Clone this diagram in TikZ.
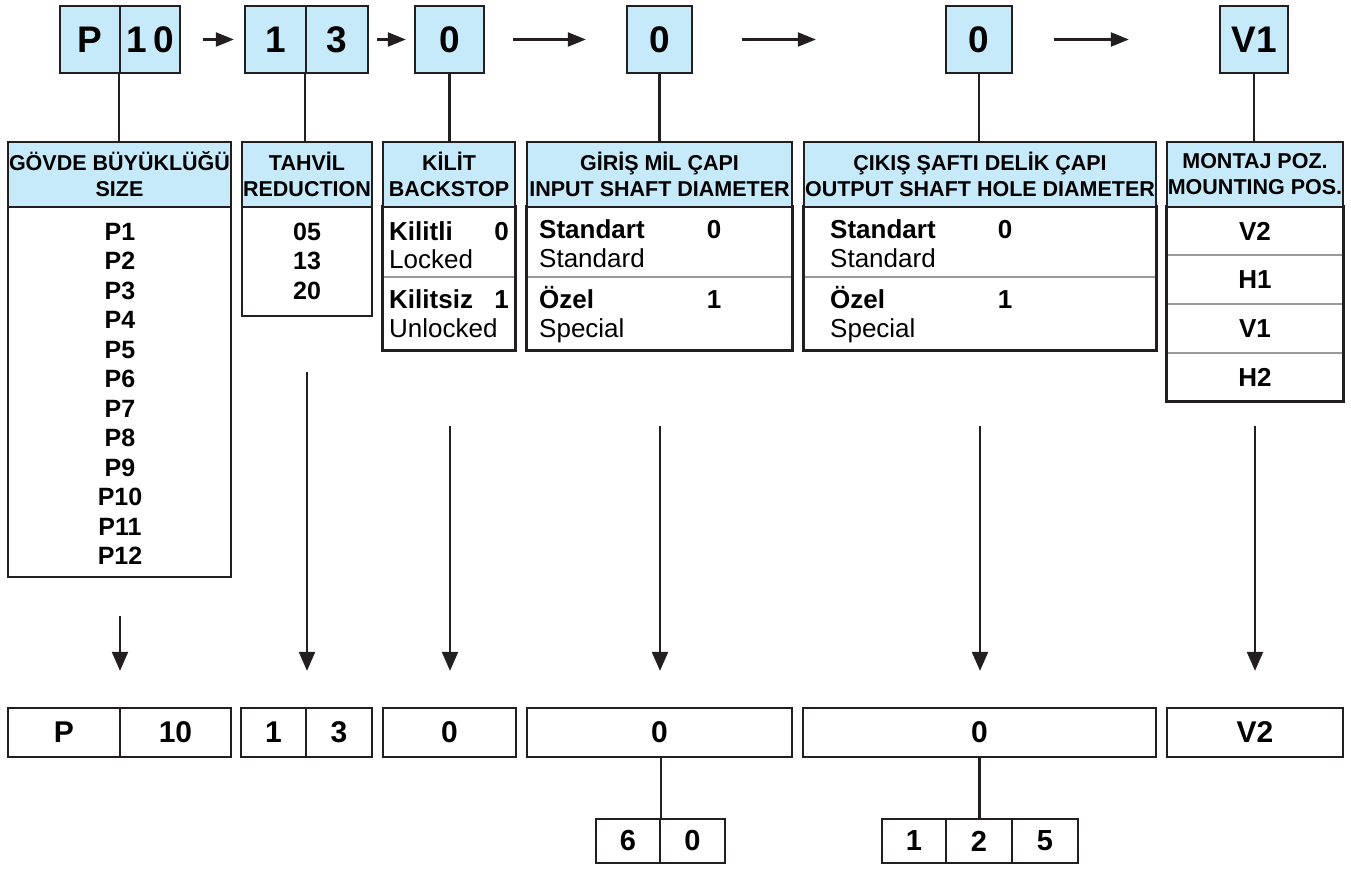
\documentclass[tikz,border=0pt]{standalone}
\usepackage{fontspec}
\setmainfont{Liberation Sans}
\usetikzlibrary{arrows.meta}
\definecolor{frame}{HTML}{231F20}
\definecolor{hdr}{HTML}{C7EAFA}
\definecolor{rowline}{HTML}{9A9A9A}
\newcommand\mkbox[7]{\node[#6,minimum width={(#4-#2)*1pt},minimum height={(#5-#3)*1pt}] (#1) at ({(#2+#4)/2},{(#3+#5)/2}) {#7};}
\begin{document}
\begin{tikzpicture}[x=1pt,y=-1pt,
  bx/.style={draw=frame,line width=2.3pt,inner sep=0pt},
  topbx/.style={bx,fill=hdr,font=\bfseries\fontsize{37}{40}\selectfont},
  hbx/.style={bx,fill=hdr,align=center,font=\bfseries\fontsize{21.5}{26}\selectfont},
  bbx/.style={bx,font=\bfseries\fontsize{30}{34}\selectfont},
  sbx/.style={bx,font=\bfseries\fontsize{29}{32}\selectfont},
  conn/.style={draw=frame,line width=2.2pt},
  tarrow/.style={conn,-{Triangle[length=18pt,width=14pt]}},
  darrow/.style={conn,-{Triangle[length=19pt,width=16pt]}},
  rowsep/.style={draw=rowline,line width=1.2pt},
  bodyb/.style={inner sep=0pt,font=\bfseries\fontsize{26}{29}\selectfont},
  bodyr/.style={inner sep=0pt,font=\fontsize{26}{29}\selectfont},
  listt/.style={inner sep=0pt,anchor=base,font=\bfseries\fontsize{25}{29}\selectfont}
]
\useasboundingbox (0,0) rectangle (1351,869);
\fill[white] (0,0) rectangle (1351,869);

% ---- top code boxes
\mkbox{a1}{60}{6}{120}{73}{topbx}{P}
\mkbox{a2}{120}{6}{180}{73}{topbx}{1\,0}
\mkbox{b1}{245}{6}{306}{73}{topbx}{1}
\mkbox{b2}{306}{6}{368}{73}{topbx}{3}
\mkbox{c}{415}{6}{484}{73}{topbx}{0}
\mkbox{d}{627}{6}{692}{73}{topbx}{0}
\mkbox{e}{946}{6}{1012}{73}{topbx}{0}
\mkbox{f}{1220}{6}{1288}{73}{topbx}{V1}

\draw[tarrow,shorten <=22pt,shorten >=10pt] (a2.east) -- (b1.west);
\draw[tarrow,shorten <=8pt,shorten >=8pt] (b2.east) -- (c.west);
\draw[tarrow,shorten <=28pt,shorten >=40pt] (c.east) -- (d.west);
\draw[tarrow,shorten <=49pt,shorten >=129pt] (d.east) -- (e.west);
\draw[tarrow,shorten <=41pt,shorten >=90pt] (e.east) -- (f.west);

% ---- option tables
% G1 size
\mkbox{g1b}{8}{207}{231}{577}{bx}{}
\mkbox{g1h}{8}{142}{231}{207}{hbx}{GÖVDE BÜYÜKLÜĞÜ\\SIZE}
\foreach \i in {1,...,12}{
  \node[listt] (pl\i) at (120,{240+29.5*(\i-1)}) {P\i};
}
% G2 reduction
\mkbox{g2b}{242}{207}{372}{316}{bx}{}
\mkbox{g2h}{242}{142}{372}{207}{hbx}{TAHVİL\\REDUCTION}
\node[listt] (r05) at (307,240) {05};
\node[listt] (r13) at (307,269.5) {13};
\node[listt] (r20) at (307,299) {20};
% G3 backstop
\mkbox{g3b}{383}{207}{515}{350}{bx}{}
\draw[rowsep] (384,277) -- (514,277);
\draw[bx,fill=none] (g3b.north west) rectangle (g3b.south east);
\mkbox{g3h}{383}{142}{515}{207}{hbx}{KİLİT\\BACKSTOP}
\node[bodyb,anchor=base west] (k1) at (389,240) {Kilitli};
\node[bodyb,anchor=base east] (k1v) at (509,240) {0};
\node[bodyr,anchor=base west] (k1e) at (389,268) {Locked};
\node[bodyb,anchor=base west] (k2) at (389,308) {Kilitsiz};
\node[bodyb,anchor=base east] (k2v) at (509,308) {1};
\node[bodyr,anchor=base west] (k2e) at (389,337) {Unlocked};
% G4 input shaft
\mkbox{g4b}{527}{207}{792}{350}{bx}{}
\draw[rowsep] (528,277) -- (791,277);
\draw[bx,fill=none] (g4b.north west) rectangle (g4b.south east);
\mkbox{g4h}{527}{142}{792}{207}{hbx}{GİRİŞ MİL ÇAPI\\INPUT SHAFT DIAMETER}
\node[bodyb,anchor=base west] (i1t) at (539,238) {Standart};
\node[bodyb,anchor=base] (i1v) at (714,238) {0};
\node[bodyr,anchor=base west] (i1e) at (539,267) {Standard};
\node[bodyb,anchor=base west] (i2t) at (539,308) {Özel};
\node[bodyb,anchor=base] (i2v) at (714,308) {1};
\node[bodyr,anchor=base west] (i2e) at (539,337) {Special};
% G5 output shaft
\mkbox{g5b}{804}{207}{1156}{350}{bx}{}
\draw[rowsep] (805,277) -- (1155,277);
\draw[bx,fill=none] (g5b.north west) rectangle (g5b.south east);
\mkbox{g5h}{804}{142}{1156}{207}{hbx}{ÇIKIŞ ŞAFTI DELİK ÇAPI\\OUTPUT SHAFT HOLE DIAMETER}
\node[bodyb,anchor=base west] (o1t) at (830,238) {Standart};
\node[bodyb,anchor=base] (o1v) at (1005,238) {0};
\node[bodyr,anchor=base west] (o1e) at (830,267) {Standard};
\node[bodyb,anchor=base west] (o2t) at (830,308) {Özel};
\node[bodyb,anchor=base] (o2v) at (1005,308) {1};
\node[bodyr,anchor=base west] (o2e) at (830,337) {Special};
% G6 mounting
\mkbox{g6b}{1167}{207}{1343}{401}{bx}{}
\draw[rowsep] (1168,255) -- (1342,255);
\draw[rowsep] (1168,304) -- (1342,304);
\draw[rowsep] (1168,353) -- (1342,353);
\draw[bx,fill=none] (g6b.north west) rectangle (g6b.south east);
\mkbox{g6h}{1167}{142}{1343}{207}{hbx}{MONTAJ POZ.\\MOUNTING POS.}
\node[bodyb] (m1) at (1255,231) {V2};
\node[bodyb] (m2) at (1255,280) {H1};
\node[bodyb] (m3) at (1255,329) {V1};
\node[bodyb] (m4) at (1255,377) {H2};

% ---- connectors top boxes to tables
\draw[conn] (a2.south west) -- (a2.south west |- g1h.north);
\draw[conn] (b2.south west) -- (b2.south west |- g2h.north);
\draw[conn] (c.south) -- (c.south |- g3h.north);
\draw[conn] (d.south) -- (d.south |- g4h.north);
\draw[conn] (e.south) -- (e.south |- g5h.north);
\draw[conn] (f.south) -- (f.south |- g6h.north);

% ---- bottom result boxes
\mkbox{p1}{8}{708}{120}{757}{bbx}{P}
\mkbox{p2}{120}{708}{231}{757}{bbx}{10}
\mkbox{q1}{241}{708}{306}{757}{bbx}{1}
\mkbox{q2}{306}{708}{372}{757}{bbx}{3}
\mkbox{kb}{383}{708}{516}{757}{bbx}{0}
\mkbox{ib}{527}{708}{792}{757}{bbx}{0}
\mkbox{ob}{803}{708}{1156}{757}{bbx}{0}
\mkbox{mb}{1167}{708}{1343}{757}{bbx}{V2}

% ---- down arrows
\coordinate (s1) at (120,616);
\coordinate (s2) at (307,372);
\coordinate (s3) at (450,426);
\coordinate (s4) at (660,426);
\coordinate (s5) at (980,426);
\coordinate (s6) at (1255,426);
\draw[darrow,shorten >=36pt] (s1) -- (s1 |- p1.north);
\draw[darrow,shorten >=36pt] (s2) -- (s2 |- q1.north);
\draw[darrow,shorten >=36pt] (s3) -- (s3 |- kb.north);
\draw[darrow,shorten >=36pt] (s4) -- (s4 |- ib.north);
\draw[darrow,shorten >=36pt] (s5) -- (s5 |- ob.north);
\draw[darrow,shorten >=36pt] (s6) -- (s6 |- mb.north);

% ---- detail boxes
\mkbox{d1}{596}{819}{660}{863}{sbx}{6}
\mkbox{d2}{660}{819}{725}{863}{sbx}{0}
\mkbox{h1}{882}{819}{946}{863}{sbx}{1}
\mkbox{h2}{946}{819}{1012}{863}{sbx}{2}
\mkbox{h3}{1012}{819}{1078}{863}{sbx}{5}
\draw[conn] (d1.north east |- ib.south) -- (d1.north east);
\draw[conn] (ob.south) -- (ob.south |- h2.north);
\end{tikzpicture}
\end{document}
